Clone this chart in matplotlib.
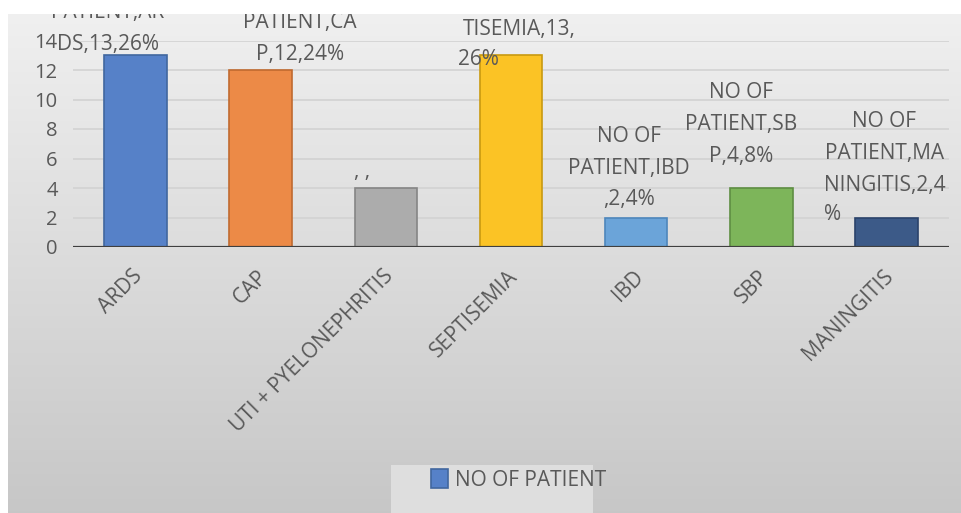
import numpy as np
import matplotlib
matplotlib.use('Agg')
import matplotlib.pyplot as plt
from matplotlib.patches import Rectangle
from matplotlib.transforms import ScaledTranslation

plt.rcParams['font.family'] = ['Open Sans', 'DejaVu Sans']

categories = ['ARDS', 'CAP', 'UTI + PYELONEPHRITIS', 'SEPTISEMIA', 'IBD', 'SBP', 'MANINGITIS']
patients = [13, 12, 4, 13, 2, 4, 2]
series_name = 'NO OF PATIENT'
# data labels as they were wrapped in the original chart
label_main = ['NO OF\nPATIENT,AR\nDS,13,26%',
              'NO OF\nPATIENT,CA\nP,12,24%',
              ', ,',
              'NO OF\nPATIENT,SEP\nTISEMIA,13,',
              'NO OF\nPATIENT,IBD\n,2,4%',
              'NO OF\nPATIENT,SB\nP,4,8%',
              'NO OF\nPATIENT,MA\nNINGITIS,2,4']
label_tail = ['', '', '', '26%', '', '', '%']

# layout (pixels): label shift from bar centre, baseline of last line above bar top
label_dx = [-28, 39, -24, 8, -7, -20, -2]
label_dy = [5, 10, 11, -10, 12, 26, -3]

fills = ['#5681C8', '#EC8A47', '#ACACAC', '#FBC325', '#6BA4D9', '#7DB55A', '#3C5A88']
edges = ['#41679F', '#C06A30', '#858585', '#C99A10', '#4D86BC', '#5E8E42', '#2A426A']
text_col = '#595959'

W, H = 962, 513
fig = plt.figure(figsize=(W / 100, H / 100), dpi=100, facecolor='white')

# chart area gradient background
bg = fig.add_axes([8 / W, 0, (W - 8) / W, (H - 14) / H], zorder=-2)
grad = np.linspace(0, 1, 256).reshape(-1, 1)
top, bot = np.array([0.94, 0.94, 0.94]), np.array([0.78, 0.78, 0.78])
img = top + (bot - top) * grad[:, :, None]
bg.imshow(img, aspect='auto', extent=[0, 1, 0, 1])
bg.axis('off')

ax = fig.add_axes([73 / W, (H - 247) / H, 876 / W, (247 - 40.5) / H])
ax.patch.set_alpha(0)

x = np.arange(len(categories))
ax.bar(x, patients, width=0.5, color=fills, edgecolor=edges, linewidth=1.2,
       label=series_name, zorder=3)

ax.set_xlim(-0.5, len(categories) - 0.5)
ax.set_ylim(0, 14)
ax.set_yticks(range(0, 15, 2))
ax.yaxis.grid(True, color='#d2d2d2', linewidth=1.2, zorder=0)
ax.set_axisbelow(True)
ax.axhline(0, color='#3f3f3f', linewidth=2.3, zorder=4)
for s in ax.spines.values():
    s.set_visible(False)

ax.tick_params(axis='y', length=0, pad=11, labelsize=14.5, labelcolor=text_col)
ax.tick_params(axis='x', length=0, pad=19, labelsize=15, labelcolor=text_col)
ax.set_xticks(x)
ax.set_xticklabels(categories, rotation=45, ha='right', va='center', rotation_mode='anchor')
shift = ScaledTranslation(4 / 100, 0, fig.dpi_scale_trans)
for lab in ax.get_xticklabels():
    lab.set_transform(lab.get_transform() + shift)

# data labels, clipped to the chart area like in the original
gap = 30
for xi, v, main, tail, dx, dy in zip(x, patients, label_main, label_tail, label_dx, label_dy):
    off = dy + gap - 5 if tail else dy - 5
    t = ax.annotate(main, xy=(xi, v), xytext=(dx, off), textcoords='offset pixels',
                    ha='center', va='bottom', multialignment='center',
                    fontsize=15, color=text_col, linespacing=1.68,
                    annotation_clip=False, zorder=5)
    t.set_clip_box(bg.bbox)
    t.set_clip_on(True)
    if tail:
        ax.annotate(tail, xy=(0, 0), xycoords=t, xytext=(0, -(gap - 5)),
                    textcoords='offset pixels', ha='left', va='baseline',
                    fontsize=15, color=text_col, zorder=5)

# legend box
fig.patches.append(Rectangle((391 / W, 0), 202 / W, 48 / H, transform=fig.transFigure,
                             facecolor='#dedede', edgecolor='none', zorder=-1))
fig.legend(loc='center left', bbox_to_anchor=(412 / W, 1 - 480 / H), frameon=False,
           fontsize=15, handlelength=0.85, handleheight=1.0, handletextpad=0.3,
           labelcolor=text_col)

fig.savefig('out.png', dpi=100, facecolor='white')
